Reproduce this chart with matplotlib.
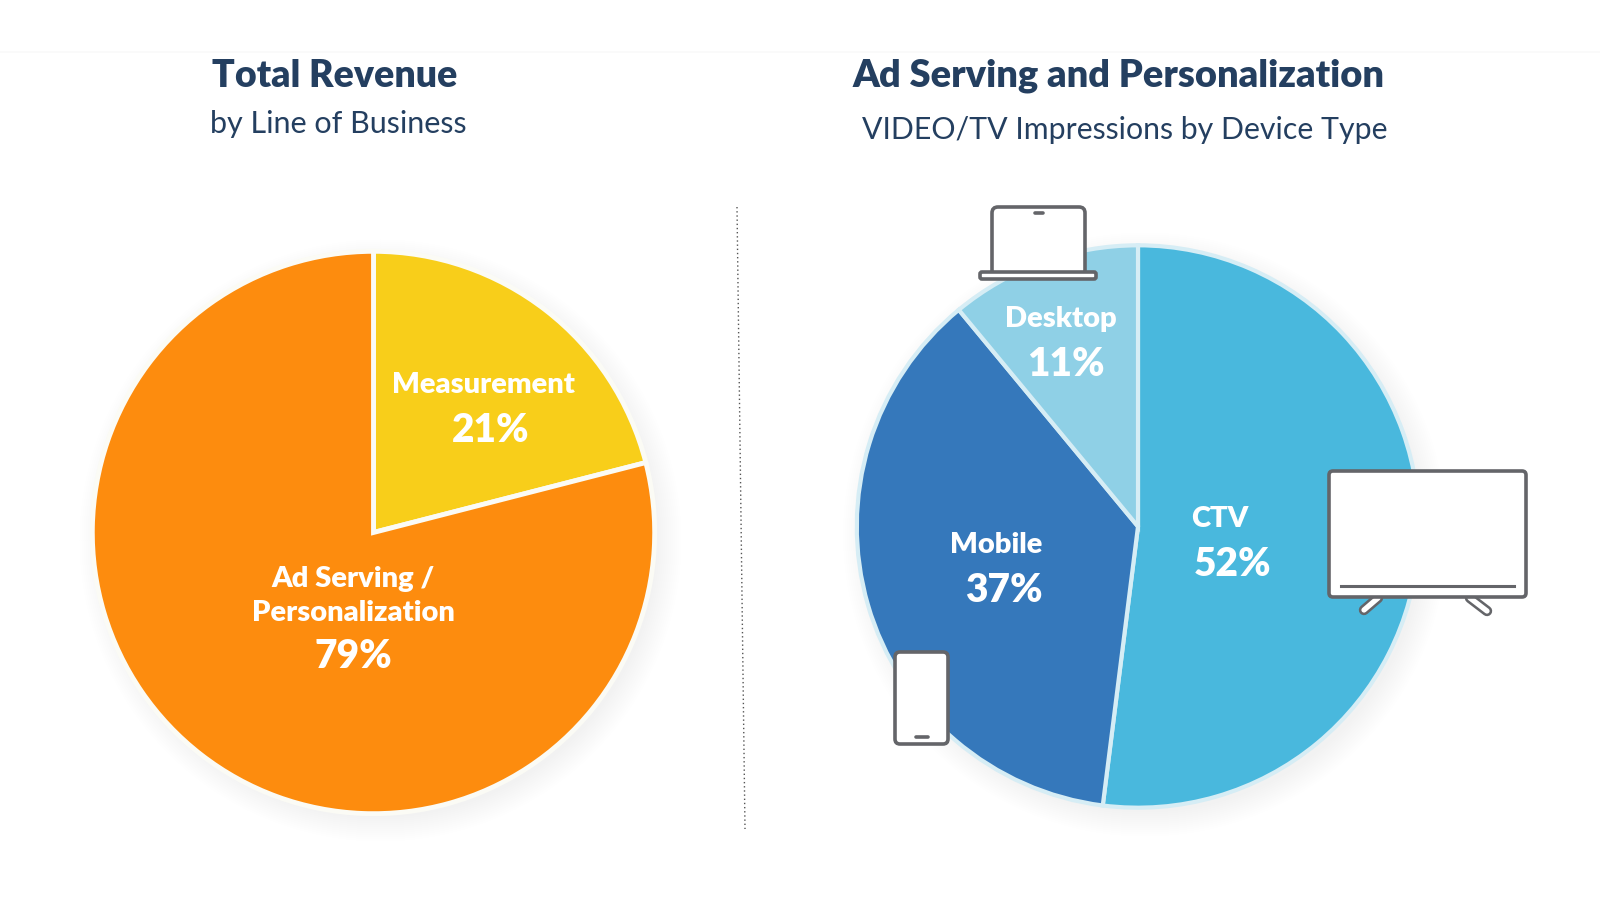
"""Two pie charts: revenue by line of business and video impressions by device."""

import matplotlib

matplotlib.use("Agg")

import matplotlib.pyplot as plt
from matplotlib.patches import Circle, FancyBboxPatch, Rectangle

WIDTH, HEIGHT = 1600, 900

revenue_labels = ["Measurement", "Ad Serving /\nPersonalization"]
revenue_values = [21, 79]
revenue_colors = ["#f8ce1a", "#fd8c0e"]

device_labels = ["CTV", "Mobile", "Desktop"]
device_values = [52, 37, 11]
device_colors = ["#49b8dd", "#3578bb", "#8fd0e6"]

NAVY = "#243f60"
ICON = "#646569"
plt.rcParams["font.family"] = ["Lato", "DejaVu Sans"]


def pixel_axes(fig, zorder):
    ax = fig.add_axes([0, 0, 1, 1], zorder=zorder)
    ax.set_xlim(0, WIDTH)
    ax.set_ylim(HEIGHT, 0)
    ax.axis("off")
    ax.patch.set_alpha(0)
    return ax


def draw_pie(fig, cx, cy, r, values, colors, edge, edge_width):
    ax = fig.add_axes([(cx - r) / WIDTH, 1 - (cy + r) / HEIGHT, 2 * r / WIDTH, 2 * r / HEIGHT], zorder=1)
    ax.pie(values, colors=colors, startangle=90, counterclock=False, radius=1,
           wedgeprops={"edgecolor": edge, "linewidth": edge_width})
    ax.set_xlim(-1.01, 1.01)
    ax.set_ylim(-1.01, 1.01)
    ax.patch.set_alpha(0)


def draw_shadow(ax, cx, cy, r):
    # soft drop shadow from stacked translucent circles
    for grow in range(22, -4, -2):
        ax.add_patch(Circle((cx + 7, cy + 8), r + grow, color="#000000", alpha=0.0035, lw=0))


def box(ax, x0, y0, x1, y1, rounding=4, lw=2.6, zorder=5):
    ax.add_patch(FancyBboxPatch((x0, y0), x1 - x0, y1 - y0,
                                boxstyle=f"round,pad=0,rounding_size={rounding}",
                                fc="white", ec=ICON, lw=lw, zorder=zorder))


def draw_icons(ax):
    # laptop
    box(ax, 992, 207, 1085, 276, rounding=6)
    box(ax, 980, 272, 1096, 279, rounding=2)
    ax.plot([1035, 1043], [213, 213], color=ICON, lw=2.6, solid_capstyle="round", zorder=6)
    # phone
    box(ax, 895, 652, 948, 744, rounding=5)
    ax.plot([916, 928], [737, 737], color=ICON, lw=2.6, solid_capstyle="round", zorder=6)
    # tv legs go under the screen
    for x0, y0, x1, y1 in ((1378, 598, 1364, 610), (1470, 598, 1487, 611)):
        ax.plot([x0, x1], [y0, y1], color=ICON, lw=7.5, solid_capstyle="round", zorder=4)
        ax.plot([x0, x1], [y0, y1], color="white", lw=3.8, solid_capstyle="round", zorder=4.5)
    box(ax, 1329, 471, 1526, 597, rounding=4)
    ax.plot([1341, 1514], [586, 586], color=ICON, lw=2.2, zorder=6)


def main():
    fig = plt.figure(figsize=(WIDTH / 100, HEIGHT / 100), dpi=100, facecolor="white")
    back = pixel_axes(fig, 0)
    front = pixel_axes(fig, 2)

    back.add_patch(Rectangle((0, 51), WIDTH, 2, color="#fafafa", lw=0))
    draw_shadow(back, 373.5, 532.5, 279)
    draw_shadow(back, 1138, 526.5, 280)
    back.plot([737, 745], [207, 829], color="#555555", lw=1, linestyle=(0, (1, 2)))

    draw_pie(fig, 373.5, 532.5, 284, revenue_values, revenue_colors, "#fbfbf5", 3.5)
    draw_pie(fig, 1138, 526.5, 284, device_values, device_colors, "#d6edf5", 3)

    draw_icons(front)

    title_kw = dict(ha="center", va="center", color=NAVY)
    front.text(334.5, 76, "Total Revenue", fontsize=27, fontweight="heavy", **title_kw)
    front.text(338, 124, "by Line of Business", fontsize=22, **title_kw)
    front.text(1118, 76, "Ad Serving and Personalization", fontsize=27.4, fontweight="heavy", **title_kw)
    front.text(1124.5, 129.5, "VIDEO/TV Impressions by Device Type", fontsize=21.8, **title_kw)

    name_kw = dict(ha="center", va="center", color="white", fontsize=21, fontweight="heavy")
    pct_kw = dict(ha="center", va="center", color="white", fontsize=28, fontweight="heavy")
    front.text(483, 385, revenue_labels[0], **name_kw)
    front.text(491, 431, f"{revenue_values[0]}%", **pct_kw)
    front.text(353, 596, revenue_labels[1], linespacing=1.38, **name_kw)
    front.text(353, 656, f"{revenue_values[1]}%", **pct_kw)
    front.text(1220, 519, device_labels[0], **name_kw)
    front.text(1233, 565, f"{device_values[0]}%", **pct_kw)
    front.text(996, 545, device_labels[1], **name_kw)
    front.text(1004, 591, f"{device_values[1]}%", **pct_kw)
    front.text(1061, 319, device_labels[2], **name_kw)
    front.text(1066, 365, f"{device_values[2]}%", **pct_kw)

    fig.savefig("out.png", dpi=100)


if __name__ == "__main__":
    main()
